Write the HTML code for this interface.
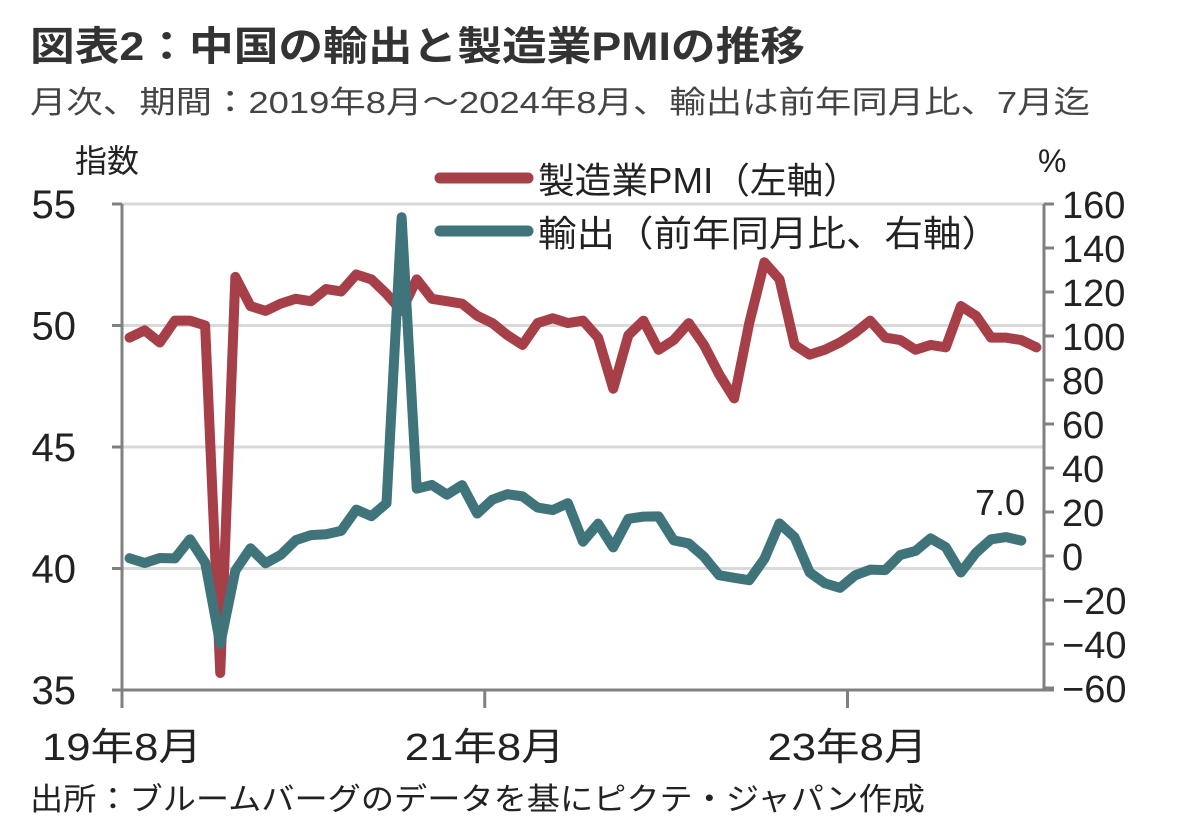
<!DOCTYPE html>
<html><head><meta charset="utf-8"><style>
html,body{margin:0;padding:0;background:#fff;}
svg{display:block;font-family:"Liberation Sans","Noto Sans CJK JP",sans-serif;}
</style></head><body>
<svg id="chart" width="1200" height="836" viewBox="0 0 1200 836">
<text x="30" y="60" font-size="40" font-weight="bold" fill="#333" textLength="775" lengthAdjust="spacingAndGlyphs">図表2：中国の輸出と製造業PMIの推移</text>
<text x="30" y="113" font-size="31" fill="#444" textLength="1060" lengthAdjust="spacingAndGlyphs">月次、期間：2019年8月～2024年8月、輸出は前年同月比、7月迄</text>
<text x="75" y="172" font-size="32" fill="#222">指数</text>
<text x="1038" y="172" font-size="32" fill="#222">%</text>
<g id="grid"></g>
<g id="axes"></g>
<g id="series"></g>
<g>
<line x1="440" y1="178" x2="528" y2="178" stroke="#a63f47" stroke-width="11" stroke-linecap="round"/>
<text x="538" y="193" font-size="36" fill="#222" textLength="322" lengthAdjust="spacingAndGlyphs">製造業PMI（左軸）</text>
<line x1="440" y1="231" x2="528" y2="231" stroke="#3f747b" stroke-width="11" stroke-linecap="round"/>
<text x="538" y="246" font-size="36" fill="#222" textLength="462" lengthAdjust="spacingAndGlyphs">輸出（前年同月比、右軸）</text>
</g>
<text x="975" y="515" font-size="36" fill="#222">7.0</text>
<text x="30" y="810" font-size="31" fill="#222" textLength="895" lengthAdjust="spacingAndGlyphs">出所：ブルームバーグのデータを基にピクテ・ジャパン作成</text>
</svg>
<script>
const leftTicks = [35, 40, 45, 50, 55];
const rightTicks = [-60, -40, -20, 0, 20, 40, 60, 80, 100, 120, 140, 160];
const xLabels = ["19年8月", "21年8月", "23年8月"];
const xLabelIndex = [0, 24, 48];
const pmi = [49.5,49.8,49.3,50.2,50.2,
50.0,35.7,52.0,50.8,50.6,50.9,51.1,51.0,51.5,51.4,52.1,51.9,
51.3,50.6,51.9,51.1,51.0,50.9,50.4,50.1,49.6,49.2,50.1,50.3,
50.1,50.2,49.5,47.4,49.6,50.2,49.0,49.4,50.1,49.2,48.0,47.0,
50.1,52.6,51.9,49.2,48.8,49.0,49.3,49.7,50.2,49.5,49.4,49.0,
49.2,49.1,50.8,50.4,49.5,49.5,49.4,49.1];
const exportsYoY = [-1.0,-3.2,-0.9,-1.1,7.6,
-3.0,-40.0,-6.6,3.5,-3.3,0.5,7.2,9.5,9.9,11.4,21.1,18.1,
24.0,154.0,30.6,32.3,27.9,32.2,19.3,25.6,28.1,27.1,22.0,20.9,
24.0,6.5,14.7,3.9,16.9,17.9,18.0,7.1,5.7,-0.3,-8.7,-9.9,
-11.0,-1.3,14.8,8.5,-7.5,-12.4,-14.5,-8.8,-6.2,-6.4,0.5,2.3,
8.0,4.0,-7.5,1.5,7.6,8.6,7.0];

const NS="http://www.w3.org/2000/svg";
const X0=122,X1=1044,N=61;
const step=(X1-X0)/N;
function x(i){return X0+step*(i+0.5);}
function yL(v){return 690-(v-35)*(690-204)/20;}
function yR(v){return 688-(v+60)*(688-204)/220;}
function mk(tag,attrs,parent){const e=document.createElementNS(NS,tag);for(const k in attrs)e.setAttribute(k,attrs[k]);parent.appendChild(e);return e;}
const grid=document.getElementById('grid'),axes=document.getElementById('axes'),series=document.getElementById('series');
leftTicks.forEach(v=>{
  if(v>35){const g=mk('line',{x1:X0,x2:X1,y1:yL(v),y2:yL(v),stroke:'#d9d9d9','stroke-width':3},grid);
  
  }
  const t=mk('line',{x1:X0-10,x2:X0,y1:yL(v),y2:yL(v),stroke:'#808080','stroke-width':3},axes);
  
  
  const l=mk('text',{x:76,y:yL(v)+14,'font-size':40,'text-anchor':'end',fill:'#222'},axes);
  l.textContent=v;
  
  
});
rightTicks.forEach(v=>{
  const t=mk('line',{x1:X1,x2:X1+10,y1:yR(v),y2:yR(v),stroke:'#808080','stroke-width':3},axes);
  
  
  const l=mk('text',{x:1062,y:yR(v)+14,'font-size':38,fill:'#222'},axes);
  l.textContent=(v<0?'−'+(-v):v);
  
  
});
let a=mk('line',{x1:X0,x2:X0,y1:204,y2:708,stroke:'#808080','stroke-width':3},axes);


a=mk('line',{x1:X1,x2:X1,y1:204,y2:690,stroke:'#808080','stroke-width':3},axes);


a=mk('line',{x1:X0-10,x2:X1+10,y1:690,y2:690,stroke:'#808080','stroke-width':3},axes);


xLabels.forEach((s,k)=>{
  const xp=X0+step*xLabelIndex[k];
  const t=mk('line',{x1:xp,x2:xp,y1:690,y2:708,stroke:'#808080','stroke-width':3},axes);
  
  
  const l=mk('text',{x:xp,y:760,'font-size':38,'text-anchor':'middle',fill:'#222',textLength:160,lengthAdjust:'spacingAndGlyphs'},axes);
  l.textContent=s;
  
  
});
const pPmi=mk('polyline',{points:pmi.map((v,i)=>x(i)+','+yL(v)).join(' '),fill:'none',stroke:'#a63f47','stroke-width':10,'stroke-linejoin':'round','stroke-linecap':'round'},series);


const pExp=mk('polyline',{points:exportsYoY.map((v,i)=>x(i)+','+yR(v)).join(' '),fill:'none',stroke:'#3f747b','stroke-width':10,'stroke-linejoin':'round','stroke-linecap':'round'},series);


</script>
</body></html>
